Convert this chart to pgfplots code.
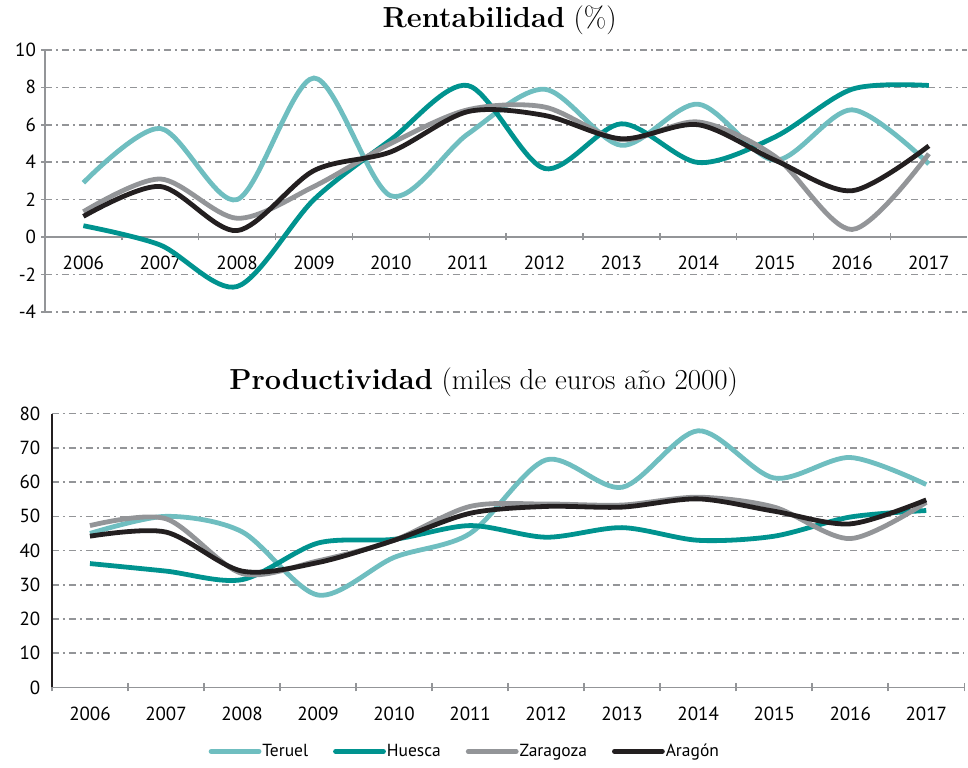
\documentclass[border=0pt]{standalone}
\usepackage{fontspec}
\setmainfont{PT Sans}
\newfontfamily\titlefont{Latin Modern Roman}
\usepackage{pgfplots}
\usepackage{pgfplotstable}
\pgfplotsset{compat=1.18}
\definecolor{teruel}{HTML}{6FBEC0}
\definecolor{huesca}{HTML}{00938F}
\definecolor{zaragoza}{HTML}{939598}
\definecolor{aragon}{HTML}{231F20}
\definecolor{gridgray}{HTML}{939598}

\pgfplotstableread{
x Teruel Huesca Zaragoza Aragon
0 2.9 0.6 1.35 1.1
1 5.8 -0.43 3.1 2.7
2 2.0 -2.65 1.0 0.34
3 8.5 2.0 2.7 3.55
4 2.2 5.2 5.0 4.55
5 5.5 8.1 6.8 6.7
6 7.9 3.66 6.95 6.5
7 4.9 6.05 5.2 5.25
8 7.1 3.98 6.15 6.0
9 4.1 5.35 4.3 4.1
10 6.8 7.9 0.4 2.47
11 3.9 8.1 4.45 4.87
}\rentab

\pgfplotstableread{
x Teruel Huesca Zaragoza Aragon
0 45 36.2 47.3 44.2
1 50 34 49.3 45.4
2 45.5 31.5 33.3 34
3 27 42.2 37 36.5
4 38 43.3 43 43
5 45 47.3 52.9 50.9
6 66.5 43.9 53.6 52.9
7 58.5 46.7 53.3 52.7
8 75 43 55.6 55.1
9 61.2 44.2 52.7 51.5
10 67.2 49.8 43.5 47.8
11 59.3 51.7 54.1 54.8
}\produc

\pgfplotsset{
  mystyle/.style={
    scale only axis,
    xmin=-0.5, xmax=11.5,
    xtick={0,...,11},
    xticklabels={2006,2007,2008,2009,2010,2011,2012,2013,2014,2015,2016,2017},
    major x tick style={draw=none},
    minor x tick num=0,
    ymajorgrids,
    grid style={gridgray, line width=1.5pt, dash pattern=on 7pt off 4pt on 2pt off 4pt},
    tick label style={font=\fontsize{19}{21}\selectfont, text=black},
    /pgf/number format/assume math mode=true,
    every axis plot/.append style={line width=4.8pt, smooth, no markers},
    tick align=outside,
    clip=false,
  },
}

\begin{document}
\begin{tikzpicture}
\path (0pt,0pt) rectangle (968pt,768pt);

\begin{axis}[mystyle,
  at={(45pt,456pt)}, anchor=south west,
  width=923pt, height=262pt,
  ymin=-4, ymax=10, ytick={-4,-2,...,10},
  axis x line=middle, axis y line=left,
  x axis line style={-, draw=gridgray, line width=1.5pt},
  y axis line style={-, draw=gridgray, line width=1.5pt},
  minor xtick={0.5,1.5,...,10.5},
  minor x tick style={draw=gridgray, line width=1.5pt},
  major y tick style={draw=gridgray, line width=1.5pt},
  minor tick length=7pt,
  major tick length=7pt,
  xticklabel style={yshift=-12pt},
  yticklabel style={xshift=-2pt},
]
\addplot[teruel] table[x=x,y=Teruel]{\rentab};
\addplot[huesca] table[x=x,y=Huesca]{\rentab};
\addplot[zaragoza] table[x=x,y=Zaragoza]{\rentab};
\addplot[aragon] table[x=x,y=Aragon]{\rentab};
\end{axis}

\begin{axis}[mystyle,
  at={(52pt,80pt)}, anchor=south west,
  width=913pt, height=274pt,
  ymin=0, ymax=80, ytick={0,10,...,80},
  axis x line=bottom, axis y line=left,
  x axis line style={-, draw=gridgray, line width=1.5pt},
  y axis line style={-, draw=aragon, line width=2pt},
  major y tick style={draw=none},
  minor xtick={-0.5,0.5,...,11.5},
  minor x tick style={draw=gridgray, line width=1.5pt},
  minor tick length=8pt,
  xticklabel style={yshift=-14pt},
  yticklabel style={xshift=-6pt},
  legend style={draw=none, fill=none, legend columns=4,
    at={(0.452,-0.2336)}, anchor=center,
    font=\fontsize{17.5}{19}\selectfont,
    /tikz/every even column/.append style={column sep=24pt},
    nodes={inner xsep=1pt}},
  legend image code/.code={\draw[#1, line width=4.8pt, line cap=round] (0pt,0pt) -- (48pt,0pt);},
]
\addplot[teruel] table[x=x,y=Teruel]{\produc};
\addplot[huesca] table[x=x,y=Huesca]{\produc};
\addplot[zaragoza] table[x=x,y=Zaragoza]{\produc};
\addplot[aragon] table[x=x,y=Aragon]{\produc};
\legend{Teruel,Huesca,Zaragoza,Aragón}
\end{axis}

\node[anchor=base, font=\titlefont\fontsize{29}{32}\selectfont] at (500pt,740pt) {\textbf{Rentabilidad} (\%)};
\node[anchor=base, font=\titlefont\fontsize{29}{32}\selectfont] at (484pt,378pt) {\textbf{Productividad} (miles de euros año 2000)};
\end{tikzpicture}
\end{document}
